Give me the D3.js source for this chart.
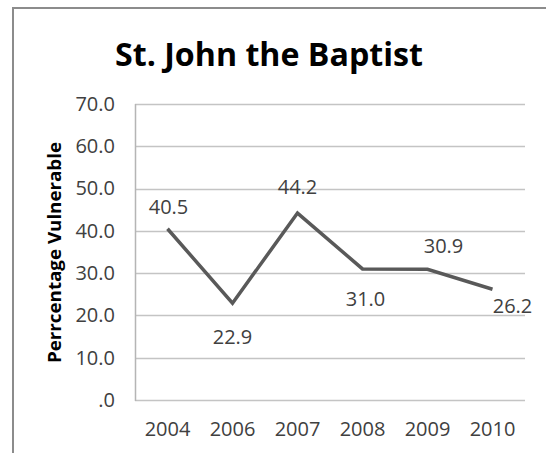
<!DOCTYPE html>
<html>
<head>
<meta charset="utf-8">
<script src="https://cdn.jsdelivr.net/npm/d3@7"></script>
<style>
  html, body { margin: 0; padding: 0; background: #fff; }
  svg { display: block; }
  text { font-family: "Open Sans", "DejaVu Sans", sans-serif; }
</style>
</head>
<body>
<svg id="chart" width="546" height="453"></svg>
<script>
// ---- data ----
const years = ["2004", "2006", "2007", "2008", "2009", "2010"];
const values = [40.5, 22.9, 44.2, 31.0, 30.9, 26.2];
const yTicks = [0, 10, 20, 30, 40, 50, 60, 70];
const title = "St. John the Baptist";
const yAxisTitle = "Perrcentage Vulnerable";
// label placement offsets (dx, dy of baseline relative to the point)
const labelDx = [1, 0, 0, 3, 16, 20];
const labelDy = [-15, 41, -19, 37, -16, 24];

// ---- layout ----
const svg = d3.select("#chart");
const W = 546, H = 453;
const plot = { left: 135, right: 525, top: 104, bottom: 400 };

// outer frame (only top and left visible)
svg.append("rect").attr("x", 13).attr("y", 8).attr("width", W + 20).attr("height", H + 20)
  .attr("fill", "#fff").attr("stroke", "#8c8c8c").attr("stroke-width", 2);

const x = d3.scaleBand().domain(years).range([plot.left, plot.right]);
const y = d3.scaleLinear().domain([0, 70]).range([plot.bottom, plot.top]);

// gridlines
svg.append("g").selectAll("line").data(yTicks).join("line")
  .attr("x1", plot.left).attr("x2", plot.right)
  .attr("y1", d => Math.round(y(d)) + 0.5).attr("y2", d => Math.round(y(d)) + 0.5)
  .attr("stroke", "#c4c4c4").attr("stroke-width", 1.5);

// left axis line
svg.append("line")
  .attr("x1", plot.left + 0.5).attr("x2", plot.left + 0.5)
  .attr("y1", plot.top).attr("y2", plot.bottom + 1)
  .attr("stroke", "#b5b5b5").attr("stroke-width", 1.5);

// y axis labels
const yAxis = d3.axisLeft(y).tickValues(yTicks).tickSize(0).tickPadding(20)
  .tickFormat(d => d === 0 ? ".0" : d3.format(".1f")(d));
const gy = svg.append("g").attr("transform", `translate(${plot.left},0)`).call(yAxis);
gy.select(".domain").remove();
gy.selectAll("text").attr("font-size", 20).attr("fill", "#404040")
  .attr("font-family", "'Open Sans', sans-serif");

// x axis labels
const xAxis = d3.axisBottom(x).tickSize(0).tickPadding(22);
const gx = svg.append("g").attr("transform", `translate(0,${plot.bottom})`).call(xAxis);
gx.select(".domain").remove();
gx.selectAll("text").attr("font-size", 20).attr("fill", "#404040")
  .attr("font-family", "'Open Sans', sans-serif");

// line
const pts = years.map((yr, i) => ({ yr, v: values[i], i }));
const line = d3.line().x(d => x(d.yr) + x.bandwidth() / 2).y(d => y(d.v));
svg.append("path").datum(pts).attr("d", line)
  .attr("fill", "none").attr("stroke", "#595959").attr("stroke-width", 3.5)
  .attr("stroke-linejoin", "miter");

// data labels
svg.append("g").selectAll("text").data(pts).join("text")
  .attr("x", d => x(d.yr) + x.bandwidth() / 2 + labelDx[d.i])
  .attr("y", d => y(d.v) + labelDy[d.i])
  .attr("text-anchor", "middle").attr("font-size", 20).attr("fill", "#404040")
  .text(d => d3.format(".1f")(d.v));

// title
svg.append("text").attr("x", 269).attr("y", 66)
  .attr("text-anchor", "middle").attr("font-size", 33).attr("font-weight", "bold")
  .attr("fill", "#000").attr("textLength", 308).attr("lengthAdjust", "spacingAndGlyphs")
  .text(title);

// y axis title
svg.append("text").attr("transform", `translate(61,${(142 + 363) / 2}) rotate(-90)`)
  .attr("text-anchor", "middle").attr("font-size", 18).attr("font-weight", "bold")
  .attr("fill", "#000").attr("textLength", 221).attr("lengthAdjust", "spacingAndGlyphs")
  .text(yAxisTitle);
</script>
</body>
</html>
